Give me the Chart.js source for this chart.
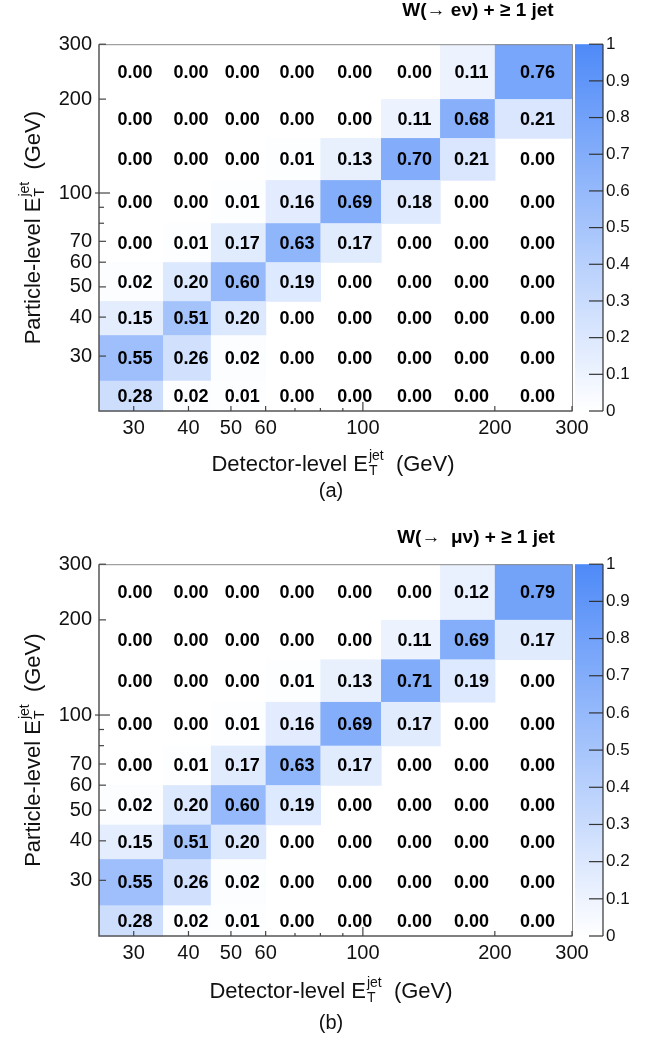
<!DOCTYPE html>
<html><head><meta charset="utf-8">
<script src="https://cdn.jsdelivr.net/npm/chart.js@4/dist/chart.umd.min.js"></script>
<style>
html,body{margin:0;padding:0;background:#fff;}
.panel{position:absolute;left:0;width:657px;height:520px;}
canvas{display:block;}
</style></head><body>
<div class="panel" style="top:0"><canvas id="chartA" width="657" height="520"></canvas></div>
<div class="panel" style="top:520px"><canvas id="chartB" width="657" height="520"></canvas></div>
<script>
// ---- data ----
const xEdges = [25, 35, 45, 60, 80, 110, 150, 200, 300];          // detector-level bins (GeV)
const yEdges = [20, 25, 35, 45, 60, 80, 110, 150, 200, 300];      // particle-level bins (GeV)
const xTickValues = [30, 40, 50, 60, 70, 80, 90, 100, 200, 300];
const xTickLabels = ['30', '40', '50', '60', '', '', '', '100', '200', '300'];
const yTickValues = [30, 40, 50, 60, 70, 80, 90, 100, 200, 300];
const yTickLabels = ['30', '40', '50', '60', '70', '', '', '100', '200', '300'];
const colorbarMin = 0, colorbarMax = 1, colorbarStep = 0.1;
// rows listed from top (200-300 GeV) to bottom (20-25 GeV)
const migrationEnu = [
  [0.00, 0.00, 0.00, 0.00, 0.00, 0.00, 0.11, 0.76],
  [0.00, 0.00, 0.00, 0.00, 0.00, 0.11, 0.68, 0.21],
  [0.00, 0.00, 0.00, 0.01, 0.13, 0.70, 0.21, 0.00],
  [0.00, 0.00, 0.01, 0.16, 0.69, 0.18, 0.00, 0.00],
  [0.00, 0.01, 0.17, 0.63, 0.17, 0.00, 0.00, 0.00],
  [0.02, 0.20, 0.60, 0.19, 0.00, 0.00, 0.00, 0.00],
  [0.15, 0.51, 0.20, 0.00, 0.00, 0.00, 0.00, 0.00],
  [0.55, 0.26, 0.02, 0.00, 0.00, 0.00, 0.00, 0.00],
  [0.28, 0.02, 0.01, 0.00, 0.00, 0.00, 0.00, 0.00]
];
const migrationMunu = [
  [0.00, 0.00, 0.00, 0.00, 0.00, 0.00, 0.12, 0.79],
  [0.00, 0.00, 0.00, 0.00, 0.00, 0.11, 0.69, 0.17],
  [0.00, 0.00, 0.00, 0.01, 0.13, 0.71, 0.19, 0.00],
  [0.00, 0.00, 0.01, 0.16, 0.69, 0.17, 0.00, 0.00],
  [0.00, 0.01, 0.17, 0.63, 0.17, 0.00, 0.00, 0.00],
  [0.02, 0.20, 0.60, 0.19, 0.00, 0.00, 0.00, 0.00],
  [0.15, 0.51, 0.20, 0.00, 0.00, 0.00, 0.00, 0.00],
  [0.55, 0.26, 0.02, 0.00, 0.00, 0.00, 0.00, 0.00],
  [0.28, 0.02, 0.01, 0.00, 0.00, 0.00, 0.00, 0.00]
];

// ---- style ----
const FONT = '"Liberation Sans", Arial, Helvetica, sans-serif';
const TOP_COLOR = [78, 138, 248];
function cmap(v) {
  const t = Math.max(0, Math.min(1, v));
  const c = TOP_COLOR.map(k => Math.round(255 + (k - 255) * t));
  return `rgb(${c[0]},${c[1]},${c[2]})`;
}

function drawETTitle(ctx, prefix, suffix, cx, baseY, size) {
  const f = `${size}px ${FONT}`;
  const fs = `${Math.round(size * 0.62)}px ${FONT}`;
  ctx.font = f;
  const w1 = ctx.measureText(prefix + 'E').width;
  ctx.font = fs;
  const wT = ctx.measureText('T').width, wJ = ctx.measureText('jet').width;
  const wS = Math.max(wT, wJ);
  ctx.font = f;
  const w2 = ctx.measureText(suffix).width;
  const total = w1 + 1 + wS + w2;
  const x0 = cx - total / 2;
  ctx.textAlign = 'left';
  ctx.textBaseline = 'alphabetic';
  ctx.fillStyle = '#111';
  ctx.font = f; ctx.fillText(prefix + 'E', x0, baseY);
  ctx.font = fs;
  ctx.fillText('T', x0 + w1 + 1, baseY + size * 0.2);
  ctx.fillText('jet', x0 + w1 + 1, baseY - size * 0.5);
  ctx.font = f; ctx.fillText(suffix, x0 + w1 + 1 + wS, baseY);
}

const heatPlugin = {
  id: 'heat',
  beforeDatasetsDraw(chart, args, opts) {
    const { ctx } = chart;
    const xs = chart.scales.x, ys = chart.scales.y;
    const vals = opts.values;
    const nr = vals.length;
    ctx.save();
    for (let r = 0; r < nr; r++) {
      const yb = nr - 1 - r;
      const yt = ys.getPixelForValue(yEdges[yb + 1]);
      const yB = ys.getPixelForValue(yEdges[yb]);
      for (let c = 0; c < vals[r].length; c++) {
        const v = vals[r][c];
        const xl = xs.getPixelForValue(xEdges[c]);
        const xr = xs.getPixelForValue(xEdges[c + 1]);
        if (v > 0) {
          ctx.fillStyle = cmap(v);
          ctx.fillRect(xl, yt, xr - xl + 0.6, yB - yt + 0.6);
        }
      }
    }
    ctx.fillStyle = '#000';
    ctx.font = `bold 18px ${FONT}`;
    ctx.textAlign = 'center';
    ctx.textBaseline = 'middle';
    for (let r = 0; r < nr; r++) {
      const yb = nr - 1 - r;
      const yc = ys.getPixelForValue(Math.sqrt(yEdges[yb + 1] * yEdges[yb]));
      for (let c = 0; c < vals[r].length; c++) {
        const xc = xs.getPixelForValue(Math.sqrt(xEdges[c] * xEdges[c + 1]));
        ctx.fillText(vals[r][c].toFixed(2), xc + 4, yc + 1);
      }
    }
    ctx.restore();
  },
  afterDraw(chart, args, opts) {
    const { ctx, chartArea: a } = chart;
    const xs = chart.scales.x, ys = chart.scales.y, cb = chart.scales.cb;
    ctx.save();
    // frame
    ctx.strokeStyle = '#8a8a8a'; ctx.lineWidth = 1;
    ctx.beginPath();
    ctx.moveTo(a.left, a.top + 0.5); ctx.lineTo(a.right + 0.5, a.top + 0.5);
    ctx.lineTo(a.right + 0.5, a.bottom);
    ctx.stroke();
    ctx.strokeStyle = '#555'; ctx.lineWidth = 1.5;
    ctx.beginPath();
    ctx.moveTo(a.left, a.top); ctx.lineTo(a.left, a.bottom); ctx.lineTo(a.right + 0.5, a.bottom);
    ctx.stroke();
    // ticks on x (inside)
    ctx.lineWidth = 1.2; ctx.strokeStyle = '#444';
    xTickValues.forEach((v, i) => {
      const px = xs.getPixelForValue(v);
      const len = v === 100 ? 9 : (xTickLabels[i] ? 5 : 3);
      ctx.beginPath(); ctx.moveTo(px, a.bottom); ctx.lineTo(px, a.bottom - len); ctx.stroke();
    });
    // ticks on y (inside)
    yTickValues.forEach((v, i) => {
      const py = ys.getPixelForValue(v);
      const len = v === 100 ? 11 : (yTickLabels[i] ? 7 : 5);
      const start = v === 100 ? a.left - 4 : a.left;
      ctx.beginPath(); ctx.moveTo(start, py); ctx.lineTo(a.left + len, py); ctx.stroke();
    });
    // colour bar
    const cTop = cb.getPixelForValue(colorbarMax), cBot = cb.getPixelForValue(colorbarMin);
    const bx0 = a.right + 3, bx1 = a.right + 31;
    const g = ctx.createLinearGradient(0, cBot, 0, cTop);
    g.addColorStop(0, cmap(colorbarMin));
    g.addColorStop(1, cmap(colorbarMax));
    ctx.fillStyle = g;
    ctx.fillRect(bx0, cTop, bx1 - bx0, cBot - cTop);
    ctx.strokeStyle = '#333'; ctx.lineWidth = 1.2;
    ctx.beginPath(); ctx.moveTo(bx1, cTop); ctx.lineTo(bx1, cBot); ctx.stroke();
    cb.ticks.forEach(t => {
      const py = cb.getPixelForValue(t.value);
      ctx.beginPath(); ctx.moveTo(bx1 - 14, py); ctx.lineTo(bx1, py); ctx.stroke();
    });
    // title
    ctx.fillStyle = '#000';
    ctx.font = `bold 19px ${FONT}`;
    ctx.textAlign = 'center'; ctx.textBaseline = 'middle';
    ctx.fillText(opts.title, opts.titleX, opts.titleY);
    // axis titles
    drawETTitle(ctx, 'Detector-level ', '  (GeV)', opts.xTitleX, opts.xTitleBase, 22);
    ctx.save();
    ctx.translate(opts.yTitleBase, (a.top + a.bottom) / 2);
    ctx.rotate(-Math.PI / 2);
    drawETTitle(ctx, 'Particle-level ', '  (GeV)', 0, 0, 22);
    ctx.restore();
    // panel tag
    ctx.fillStyle = '#111';
    ctx.font = `20px ${FONT}`;
    ctx.textAlign = 'center'; ctx.textBaseline = 'middle';
    ctx.fillText(opts.tag, opts.tagX, opts.tagY);
    ctx.restore();
  }
};

function makeChart(id, values, geom) {
  const H = 520, W = 657;
  return new Chart(document.getElementById(id), {
    type: 'scatter',
    data: { datasets: [{ data: [], pointRadius: 0 }] },
    options: {
      responsive: false,
      animation: false,
      devicePixelRatio: 1,
      layout: { padding: { top: geom.top, left: 0, right: 0, bottom: 0 } },
      plugins: {
        legend: { display: false },
        tooltip: { enabled: false },
        heat: {
          values,
          title: geom.title, titleX: geom.titleX, titleY: geom.titleY,
          xTitleX: geom.xTitleX, xTitleBase: geom.xTitleBase, yTitleBase: 40,
          tag: geom.tag, tagX: 331, tagY: geom.tagY
        }
      },
      scales: {
        x: {
          type: 'logarithmic', position: 'bottom', min: 25, max: 300,
          grid: { display: false, drawTicks: false },
          border: { display: false },
          afterBuildTicks: s => { s.ticks = xTickValues.map(v => ({ value: v })); },
          afterFit: s => { s.height = H - geom.bottom; },
          ticks: {
            autoSkip: false, maxRotation: 0, padding: 5, color: '#111',
            font: { family: FONT, size: 20 },
            callback: v => { const i = xTickValues.indexOf(v); return i >= 0 ? xTickLabels[i] : ''; }
          }
        },
        y: {
          type: 'logarithmic', position: 'left', min: 20, max: 300,
          grid: { display: false, drawTicks: false },
          border: { display: false },
          afterBuildTicks: s => { s.ticks = yTickValues.map(v => ({ value: v })); },
          afterFit: s => { s.width = 99; },
          ticks: {
            autoSkip: false, padding: 7, color: '#111',
            font: { family: FONT, size: 20 },
            callback: v => { const i = yTickValues.indexOf(v); return i >= 0 ? yTickLabels[i] : ''; }
          }
        },
        cb: {
          type: 'linear', position: 'right', min: colorbarMin, max: colorbarMax,
          grid: { display: false, drawTicks: false },
          border: { display: false },
          afterFit: s => { s.width = W - 572; },
          ticks: {
            stepSize: colorbarStep, padding: 34, color: '#111',
            font: { family: FONT, size: 17 },
            callback: v => (Math.abs(v) < 1e-9 ? '0' : Math.abs(v - 1) < 1e-9 ? '1' : v.toFixed(1))
          }
        }
      }
    },
    plugins: [heatPlugin]
  });
}

makeChart('chartA', migrationEnu, {
  top: 28, bottom: 411, title: 'W(\u2192 e\u03bd) + \u2265 1 jet', titleX: 478, titleY: 11,
  xTitleX: 333, xTitleBase: 471, tag: '(a)', tagY: 491
});
makeChart('chartB', migrationMunu, {
  top: 34, bottom: 416, title: 'W(\u2192  \u03bc\u03bd) + \u2265 1 jet', titleX: 476, titleY: 18,
  xTitleX: 331, xTitleBase: 478, tag: '(b)', tagY: 503
});
</script>
</body></html>
